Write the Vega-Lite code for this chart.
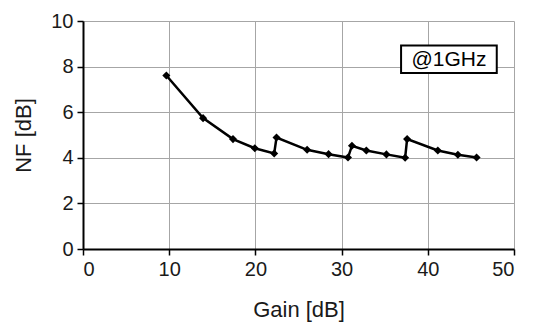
{
  "$schema": "https://vega.github.io/schema/vega-lite/v6.json",
  "width": 431,
  "height": 228,
  "autosize": {"type": "none"},
  "padding": {"left": 83, "top": 21, "right": 20, "bottom": 73},
  "background": "white",
  "config": {
    "font": "Liberation Sans",
    "view": {"stroke": null},
    "axis": {"labelFont": "Liberation Sans", "titleFont": "Liberation Sans", "labelColor": "#1a1a1a", "titleColor": "#1a1a1a", "titleFontWeight": "normal"}
  },
  "datasets": {
    "pts": [
      {"gain": 9.67, "nf": 7.61},
      {"gain": 13.93, "nf": 5.74},
      {"gain": 17.4, "nf": 4.82},
      {"gain": 19.93, "nf": 4.42},
      {"gain": 22.18, "nf": 4.19},
      {"gain": 22.45, "nf": 4.89},
      {"gain": 26.0, "nf": 4.35},
      {"gain": 28.49, "nf": 4.16},
      {"gain": 30.74, "nf": 4.01},
      {"gain": 31.2, "nf": 4.53},
      {"gain": 32.87, "nf": 4.32},
      {"gain": 35.2, "nf": 4.15},
      {"gain": 37.37, "nf": 4.0},
      {"gain": 37.6, "nf": 4.82},
      {"gain": 41.16, "nf": 4.32},
      {"gain": 43.49, "nf": 4.13},
      {"gain": 45.66, "nf": 4.01}
    ],
    "note": [
      {"x1": 36.9, "x2": 48.0, "y1": 7.72, "y2": 8.92, "xm": 42.45, "ym": 8.32, "label": "@1GHz"}
    ]
  },
  "layer": [
    {
      "data": {"name": "pts"},
      "mark": {"type": "line", "color": "black", "strokeWidth": 2.5},
      "encoding": {
        "x": {
          "field": "gain", "type": "quantitative",
          "scale": {"domain": [0, 50], "nice": false},
          "axis": {
            "title": "Gain [dB]", "titleFontSize": 22, "titlePadding": 20,
            "labelFontSize": 20, "values": [0, 10, 20, 30, 40, 50],
            "grid": true, "gridColor": "#a6a6a6", "gridWidth": 1,
            "domainColor": "black", "domainWidth": 2, "tickColor": "black", "tickWidth": 1.5, "tickSize": 6,
            "labelPadding": 4
          }
        },
        "y": {
          "field": "nf", "type": "quantitative",
          "scale": {"domain": [0, 10], "nice": false},
          "axis": {
            "title": "NF [dB]", "titleFontSize": 22, "titlePadding": 15,
            "labelFontSize": 20,
            "values": [0, 0.5, 1, 1.5, 2, 2.5, 3, 3.5, 4, 4.5, 5, 5.5, 6, 6.5, 7, 7.5, 8, 8.5, 9, 9.5, 10],
            "labelExpr": "datum.value % 2 === 0 ? datum.label : ''",
            "grid": true,
            "gridColor": {"condition": {"test": "datum.value % 2 === 0", "value": "#a6a6a6"}, "value": "#d4d4d4"},
            "gridWidth": 1,
            "tickOpacity": {"condition": {"test": "datum.value % 2 === 0", "value": 1}, "value": 0},
            "domainColor": "black", "domainWidth": 2, "tickColor": "black", "tickWidth": 1.5, "tickSize": 6,
            "labelPadding": 4
          }
        }
      }
    },
    {
      "data": {"name": "pts"},
      "mark": {"type": "point", "shape": "diamond", "filled": true, "color": "black", "size": 65, "opacity": 1},
      "encoding": {
        "x": {"field": "gain", "type": "quantitative"},
        "y": {"field": "nf", "type": "quantitative"}
      }
    },
    {
      "data": {"name": "note"},
      "mark": {"type": "rect", "fill": "white", "stroke": "black", "strokeWidth": 2},
      "encoding": {
        "x": {"field": "x1", "type": "quantitative"},
        "x2": {"field": "x2"},
        "y": {"field": "y1", "type": "quantitative"},
        "y2": {"field": "y2"}
      }
    },
    {
      "data": {"name": "note"},
      "mark": {"type": "text", "fontSize": 21, "color": "black", "align": "center", "baseline": "middle", "font": "Liberation Sans", "dy": 1},
      "encoding": {
        "x": {"field": "xm", "type": "quantitative"},
        "y": {"field": "ym", "type": "quantitative"},
        "text": {"field": "label"}
      }
    }
  ]
}
